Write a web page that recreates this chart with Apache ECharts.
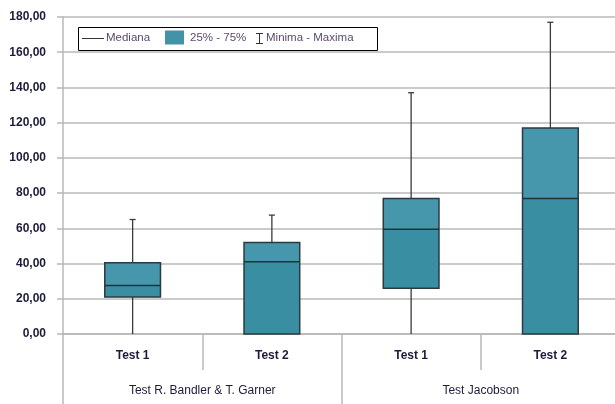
<!DOCTYPE html>
<html>
<head>
<meta charset="utf-8">
<script src="https://cdn.jsdelivr.net/npm/echarts@6/dist/echarts.min.js"></script>
<style>html,body{margin:0;padding:0;background:#fff;overflow:hidden;}#c{width:615px;height:404px;}</style>
</head>
<body>
<div id="c"></div>
<script>
var categories = ['Test 1', 'Test 2', 'Test 1', 'Test 2'];
var groups = ['Test R. Bandler & T. Garner', 'Test Jacobson'];
var minima = [0, 0, 0, 0];
var q1 = [21, 0, 26, 0];
var medians = [27.5, 41, 59.5, 77];
var q3 = [40.5, 52, 77, 117];
var maxima = [65, 67.5, 137, 177];
var yTicks = [0, 20, 40, 60, 80, 100, 120, 140, 160, 180];

var boxData = categories.map(function (c, i) { return [i, q1[i], medians[i], q3[i]]; });
var whiskerData = categories.map(function (c, i) { return [i, minima[i], maxima[i]]; });
var medianData = categories.map(function (c, i) { return [i, medians[i]]; });

var labelColor = '#1c1c3c';
var gridColor = '#b8b8b8';
var font = '"Liberation Sans", Arial, sans-serif';

var chart = echarts.init(document.getElementById('c'));
chart.setOption({
  animation: false,
  grid: { left: 63, right: -5, top: 17, bottom: 70, containLabel: false, outerBoundsMode: 'none' },
  xAxis: [{
    type: 'category', data: categories, boundaryGap: true, position: 'bottom',
    axisLine: { show: true, lineStyle: { color: gridColor, width: 1.5 } },
    axisTick: { show: true, interval: 0, length: 36, lineStyle: { color: gridColor, width: 1.5 } },
    axisLabel: { interval: 0, margin: 16, color: labelColor, fontWeight: 'bold', fontSize: 12, fontFamily: font }
  }, {
    type: 'category', data: groups, boundaryGap: true, position: 'bottom',
    axisLine: { show: false },
    axisTick: { show: true, interval: 0, length: 72, lineStyle: { color: gridColor, width: 1.5 } },
    axisLabel: { interval: 0, margin: 51, color: labelColor, fontSize: 12, fontFamily: font }
  }],
  yAxis: {
    type: 'value', min: yTicks[0], max: yTicks[yTicks.length - 1], interval: yTicks[1] - yTicks[0],
    axisLine: { show: true, lineStyle: { color: gridColor, width: 1.5 } },
    axisTick: { show: true, length: 6, lineStyle: { color: gridColor, width: 1.5 } },
    splitLine: { show: true, lineStyle: { color: gridColor, width: 1.5 } },
    axisLabel: {
      margin: 17, color: labelColor, fontWeight: 'bold', fontSize: 12, fontFamily: font,
      formatter: function (v) { return v.toFixed(2).replace('.', ','); }
    }
  },
  series: [{
    name: 'Minima - Maxima', type: 'custom', xAxisIndex: 0,
    data: whiskerData, encode: { x: 0, y: [1, 2] },
    renderItem: function (params, api) {
      var x = api.value(0);
      var pMin = api.coord([x, api.value(1)]);
      var pMax = api.coord([x, api.value(2)]);
      var style = { stroke: '#3a3a3a', lineWidth: 1.3 };
      return { type: 'group', children: [
        { type: 'line', shape: { x1: pMin[0], y1: pMin[1], x2: pMax[0], y2: pMax[1] }, style: style },
        { type: 'line', shape: { x1: pMax[0] - 3, y1: pMax[1], x2: pMax[0] + 3, y2: pMax[1] }, style: style }
      ] };
    }
  }, {
    name: '25% - 75%', type: 'custom', xAxisIndex: 0,
    data: boxData, encode: { x: 0, y: [1, 2, 3] },
    renderItem: function (params, api) {
      var x = api.value(0);
      var p1 = api.coord([x, api.value(1)]);
      var pm = api.coord([x, api.value(2)]);
      var p3 = api.coord([x, api.value(3)]);
      var w = api.size([1, 0])[0] * 0.4;
      var left = p1[0] - w / 2;
      return { type: 'group', children: [
        { type: 'rect', shape: { x: left, y: pm[1], width: w, height: p1[1] - pm[1] }, style: { fill: '#3a8ea2' } },
        { type: 'rect', shape: { x: left, y: p3[1], width: w, height: pm[1] - p3[1] }, style: { fill: '#4697ab' } },
        { type: 'rect', shape: { x: left, y: p3[1], width: w, height: p1[1] - p3[1] }, style: { fill: null, stroke: '#2a3b40', lineWidth: 1.5 } }
      ] };
    }
  }, {
    name: 'Mediana', type: 'custom', xAxisIndex: 0,
    data: medianData, encode: { x: 0, y: 1 },
    renderItem: function (params, api) {
      var x = api.value(0);
      var p = api.coord([x, api.value(1)]);
      var w = api.size([1, 0])[0] * 0.4;
      return { type: 'line', shape: { x1: p[0] - w / 2, y1: p[1], x2: p[0] + w / 2, y2: p[1] }, style: { stroke: '#1e3238', lineWidth: 1.5 } };
    }
  }],
  graphic: [
    { type: 'rect', left: 78, top: 27, shape: { width: 299, height: 23 }, style: { fill: '#fff', stroke: '#000', lineWidth: 1 }, z: 100 },
    { type: 'line', shape: { x1: 82, y1: 38.5, x2: 104, y2: 38.5 }, style: { stroke: '#333', lineWidth: 1 }, z: 101 },
    { type: 'text', left: 106, top: 32, style: { text: 'Mediana', fill: '#5a4a70', font: '11.5px ' + font }, z: 101 },
    { type: 'rect', shape: { x: 165, y: 30.5, width: 19, height: 14 }, style: { fill: '#4193a7' }, z: 101 },
    { type: 'text', left: 190, top: 32, style: { text: '25% - 75%', fill: '#5a4a70', font: '11.5px ' + font }, z: 101 },
    { type: 'line', shape: { x1: 259.5, y1: 33, x2: 259.5, y2: 44 }, style: { stroke: '#333', lineWidth: 1 }, z: 101 },
    { type: 'line', shape: { x1: 256, y1: 33.5, x2: 263, y2: 33.5 }, style: { stroke: '#333', lineWidth: 1 }, z: 101 },
    { type: 'line', shape: { x1: 256, y1: 43.5, x2: 263, y2: 43.5 }, style: { stroke: '#333', lineWidth: 1 }, z: 101 },
    { type: 'text', left: 266, top: 32, style: { text: 'Minima - Maxima', fill: '#5a4a70', font: '11.5px ' + font }, z: 101 }
  ]
});
</script>
</body>
</html>
